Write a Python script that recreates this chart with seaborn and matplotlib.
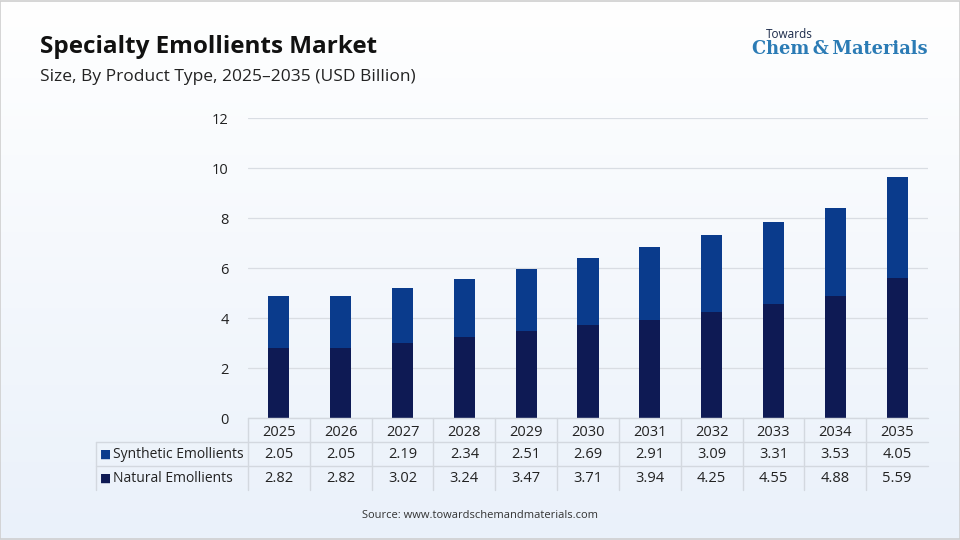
import numpy as np
import pandas as pd
import matplotlib
matplotlib.use("Agg")
import matplotlib.pyplot as plt
import seaborn as sns

# data
years = ['2025', '2026', '2027', '2028', '2029', '2030',
         '2031', '2032', '2033', '2034', '2035']
synthetic = [2.05, 2.05, 2.19, 2.34, 2.51, 2.69, 2.91, 3.09, 3.31, 3.53, 4.05]
natural = [2.82, 2.82, 3.02, 3.24, 3.47, 3.71, 3.94, 4.25, 4.55, 4.88, 5.59]
series_names = ['Synthetic Emollients', 'Natural Emollients']
y_ticks = [0, 2, 4, 6, 8, 10, 12]

c_syn = '#0a3b8c'
c_nat = '#0e1a54'

sns.set_theme(style='white')
plt.rcParams['font.family'] = ['Open Sans', 'DejaVu Sans']

df = pd.DataFrame({'year': years, 'synthetic': synthetic, 'natural': natural})
df['total'] = df['synthetic'] + df['natural']

fig = plt.figure(figsize=(9.6, 5.4), dpi=100)

# background gradient
bg = fig.add_axes([0, 0, 1, 1], zorder=-10)
grad = np.linspace(0, 1, 256).reshape(-1, 1)
cmap = matplotlib.colors.LinearSegmentedColormap.from_list('bg', ['#ffffff', '#eaf1fa'])
bg.imshow(grad, aspect='auto', cmap=cmap, extent=[0, 1, 0, 1], origin='upper')
bg.set_axis_off()
fig.patches.append(plt.Rectangle((0.0005, 0.001), 0.999, 0.998, transform=fig.transFigure,
                                 fill=False, edgecolor='#cfcfcf', linewidth=1.2))

L, R = 248 / 960, 928 / 960
ax = fig.add_axes([L, (540 - 418) / 540, R - L, 300 / 540])
ax.patch.set_alpha(0)

sns.barplot(data=df, x='year', y='total', color=c_syn, width=0.34,
            saturation=1, linewidth=0, ax=ax, zorder=3)
sns.barplot(data=df, x='year', y='natural', color=c_nat, width=0.34,
            saturation=1, linewidth=0, ax=ax, zorder=4)

ax.set_ylim(0, 12)
ax.set_xlim(-0.5, len(years) - 0.5)
ax.set_yticks(y_ticks)
ax.set_yticklabels([str(t) for t in y_ticks], fontsize=10.5, color='#222222')
ax.tick_params(axis='y', length=0, pad=14)
ax.tick_params(axis='x', length=0, pad=5, labelsize=10.5, labelcolor='#222222')
ax.set_xlabel('')
ax.set_ylabel('')
for s in ax.spines.values():
    s.set_visible(False)
ax.grid(axis='y', color='#d9dde3', linewidth=0.9, zorder=0)
ax.set_axisbelow(True)

# table below the axis
line_c = '#d3d8df'
row_h = 24 / 540
top = (540 - 418) / 540
hdr_bot = (540 - 442) / 540
x_left = 96 / 960
col_w = (R - L) / len(years)
fig.add_artist(plt.Line2D([L, R], [top, top], color=line_c, lw=1))
for k in range(2):
    yl = hdr_bot - k * row_h
    fig.add_artist(plt.Line2D([x_left, R], [yl, yl], color=line_c, lw=1))
for i in range(len(years)):
    xv = L + i * col_w
    fig.add_artist(plt.Line2D([xv, xv], [hdr_bot - 2 * row_h, top], color=line_c, lw=1))
fig.add_artist(plt.Line2D([x_left, x_left], [hdr_bot - 2 * row_h, hdr_bot], color=line_c, lw=1))

rows = [synthetic, natural]
colors = [c_syn, c_nat]
for r, (name, vals, col) in enumerate(zip(series_names, rows, colors)):
    yc = hdr_bot - (r + 0.5) * row_h
    fig.text(100 / 960, yc, '\u25a0', color=col, fontsize=8.5, va='center', ha='left',
             family=['DejaVu Sans'])
    fig.text(113 / 960, yc, name, color='#222222', fontsize=10, va='center', ha='left')
    for i, v in enumerate(vals):
        fig.text(L + (i + 0.5) * col_w, yc, f'{v:.2f}', color='#222222',
                 fontsize=10.5, va='center', ha='center')

# titles
fig.text(40 / 960, 1 - 47 / 540, 'Specialty Emollients Market', fontsize=17.5,
         fontweight='bold', color='#111111', va='center', ha='left')
fig.text(40 / 960, 1 - 77 / 540, 'Size, By Product Type, 2025\u20132035 (USD Billion)',
         fontsize=12.5, color='#222222', va='center', ha='left')
fig.text(480 / 960, 1 - 516 / 540, 'Source: www.towardschemandmaterials.com',
         fontsize=8, color='#333333', va='center', ha='center')

# logo text
fig.text(766 / 960, 1 - 35 / 540, 'Towards', fontsize=8.5, color='#1b2a4a',
         va='center', ha='left')
fig.text(752 / 960, 1 - 49 / 540, 'Chem\u2009&\u2009Materials', fontsize=12.8,
         fontweight='bold', color='#2b7bb5', va='center', ha='left',
         family=['DejaVu Serif'])

fig.savefig('out.png', dpi=100)
